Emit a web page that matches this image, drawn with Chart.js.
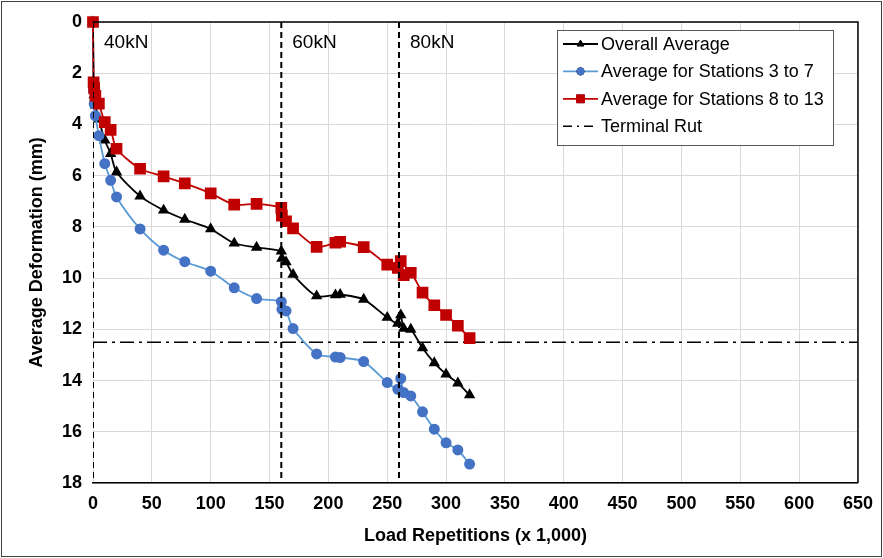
<!DOCTYPE html>
<html>
<head>
<meta charset="utf-8">
<script src="https://cdn.jsdelivr.net/npm/chart.js@4.4.0/dist/chart.umd.min.js"></script>
<style>
html,body{margin:0;padding:0;background:#fff;}
canvas{display:block;}
</style>
</head>
<body>
<canvas id="c" width="883" height="558"></canvas>
<script>
// ---- data ----
const loads = [0, 0.5, 1, 2, 5, 10, 15, 20, 40, 60, 78, 100, 120, 139, 160, 160.5, 164, 170, 190, 206, 210, 230, 250, 259, 261.5, 264, 270, 280, 290, 300, 310, 320];
const overallAverage = [0, 2.5, 2.85, 3.25, 3.8, 4.62, 5.14, 5.86, 6.8, 7.35, 7.71, 8.08, 8.64, 8.8, 8.95, 9.23, 9.37, 9.86, 10.7, 10.66, 10.64, 10.83, 11.54, 11.77, 11.44, 11.97, 12.0, 12.73, 13.31, 13.75, 14.1, 14.56];
const stations3to7 = [0, 2.7, 3.2, 3.66, 4.44, 5.53, 6.18, 6.83, 8.08, 8.91, 9.36, 9.73, 10.38, 10.8, 10.92, 11.22, 11.28, 11.97, 12.96, 13.08, 13.1, 13.26, 14.08, 14.34, 13.92, 14.47, 14.6, 15.22, 15.9, 16.43, 16.71, 17.26];
const stations8to13 = [0, 2.36, 2.58, 2.88, 3.19, 3.91, 4.21, 4.95, 5.73, 6.03, 6.3, 6.69, 7.13, 7.1, 7.26, 7.56, 7.78, 8.06, 8.78, 8.62, 8.58, 8.79, 9.47, 9.6, 9.34, 9.88, 9.79, 10.57, 11.06, 11.44, 11.86, 12.34];
const loadChangeAt = [0, 160, 260];
const loadChangeLabels = ['40kN', '60kN', '80kN'];
const terminalRut = 12.5;
const seriesNames = ['Overall Average', 'Average for Stations 3 to 7', 'Average for Stations 8 to 13', 'Terminal Rut'];
const xMin = 0, xMax = 650, xStep = 50;
const yMin = 0, yMax = 18, yStep = 2;

const pts = (ys) => loads.map((x, i) => ({x: x, y: ys[i]}));

const datasets = [
  {label: seriesNames[2], data: pts(stations8to13), borderColor: '#C00000', backgroundColor: '#C00000',
   pointStyle: 'rect', pointRadius: 7, borderWidth: 1.8, tension: 0.25, order: 1, legendIdx: 2, clip: false},
  {label: seriesNames[1], data: pts(stations3to7), borderColor: '#5B9BD5', backgroundColor: '#4472C4',
   pointBorderColor: '#4472C4', pointStyle: 'circle', pointRadius: 4.6, borderWidth: 1.8, tension: 0.25, order: 2, legendIdx: 1, clip: false},
  {label: seriesNames[0], data: pts(overallAverage), borderColor: '#000000', backgroundColor: '#000000',
   pointStyle: 'triangle', pointRadius: 4.8, borderWidth: 1.8, tension: 0.25, order: 3, legendIdx: 0, clip: false},
  {label: seriesNames[3], data: [{x: xMin, y: terminalRut}, {x: xMax, y: terminalRut}], borderColor: '#000000',
   borderDash: [14, 5, 3, 5], borderWidth: 1.5, pointRadius: 0, order: 4, legendIdx: 3}
];
loadChangeAt.forEach((lx) => {
  datasets.push({label: '_lc' + lx, data: [{x: lx, y: yMin}, {x: lx, y: yMax}], borderColor: '#000000',
    borderDash: [6, 4], borderWidth: 2, pointRadius: 0, order: 0});
});

const FONT = "'Liberation Sans', Arial, sans-serif";

const decor = {
  id: 'decor',
  beforeDraw(chart) {
    const ctx = chart.ctx;
    ctx.save();
    ctx.fillStyle = '#fff';
    ctx.fillRect(0, 0, chart.width, chart.height);
    ctx.strokeStyle = '#404040';
    ctx.lineWidth = 1;
    ctx.strokeRect(1.5, 1.5, chart.width - 3, chart.height - 3);
    ctx.restore();
  },
  afterDatasetsDraw(chart) {
    const ctx = chart.ctx, a = chart.chartArea;
    const xs = chart.scales.x, ys = chart.scales.y;
    ctx.save();
    // plot frame top/right
    ctx.strokeStyle = '#000';
    ctx.lineWidth = 1.5;
    ctx.beginPath();
    ctx.moveTo(a.left, a.top); ctx.lineTo(a.right, a.top); ctx.lineTo(a.right, a.bottom);
    ctx.stroke();
    // load labels
    ctx.fillStyle = '#000';
    ctx.font = '19px ' + FONT;
    ctx.textBaseline = 'middle';
    ctx.textAlign = 'left';
    loadChangeAt.forEach((lx, i) => {
      ctx.fillText(loadChangeLabels[i], xs.getPixelForValue(lx) + 11, ys.getPixelForValue(yMin) + 21);
    });
    // legend
    const bx = 557, by = 30, bw = 276, bh = 115;
    ctx.fillStyle = '#fff';
    ctx.fillRect(bx, by, bw, bh);
    ctx.strokeStyle = '#595959';
    ctx.lineWidth = 1;
    ctx.strokeRect(bx + 0.5, by + 0.5, bw, bh);
    const rows = chart.data.datasets.filter(d => d.legendIdx !== undefined).sort((p, q) => p.legendIdx - q.legendIdx);
    ctx.font = '18px ' + FONT;
    rows.forEach((d, i) => {
      const cy = 44 + i * 27.4;
      ctx.save();
      ctx.strokeStyle = d.borderColor;
      ctx.lineWidth = d.legendIdx === 3 ? 1.5 : 1.8;
      ctx.setLineDash(d.legendIdx === 3 ? [9, 5, 2, 5] : []);
      ctx.beginPath(); ctx.moveTo(563, cy); ctx.lineTo(598, cy); ctx.stroke();
      ctx.restore();
      if (d.pointRadius > 0) {
        Chart.helpers.drawPoint(ctx, {pointStyle: d.pointStyle, radius: d.pointRadius * 0.8, rotation: 0, borderWidth: 1}, 580.5, cy);
        ctx.fillStyle = d.pointBorderColor || d.backgroundColor;
        ctx.strokeStyle = d.pointBorderColor || d.backgroundColor;
        ctx.fill(); ctx.stroke();
      }
      ctx.fillStyle = '#000';
      ctx.fillText(d.label, 601, cy + 1);
    });
    ctx.restore();
  }
};

new Chart(document.getElementById('c'), {
  type: 'scatter',
  data: {datasets: datasets},
  options: {
    responsive: false,
    devicePixelRatio: 1,
    animation: false,
    showLine: true,
    layout: {padding: {left: 8, top: 22, right: 24, bottom: 8}},
    plugins: {legend: {display: false}, tooltip: {enabled: false}},
    elements: {line: {fill: false}},
    scales: {
      x: {
        type: 'linear', min: xMin, max: xMax,
        ticks: {stepSize: xStep, color: '#000', padding: 10, font: {family: FONT, size: 18, weight: 'bold'}, maxRotation: 0},
        grid: {color: '#d9d9d9', lineWidth: 1, drawTicks: false},
        border: {display: true, color: '#000', width: 1.5},
        title: {display: true, text: 'Load Repetitions (x 1,000)', color: '#000', padding: {top: 0, bottom: 3}, font: {family: FONT, size: 18, weight: 'bold'}},
        afterFit: (s) => { s.height = 558 - 8 - 483; }
      },
      y: {
        type: 'linear', min: yMin, max: yMax, reverse: true,
        ticks: {stepSize: yStep, color: '#000', padding: 11, font: {family: FONT, size: 18, weight: 'bold'}},
        grid: {color: '#d9d9d9', lineWidth: 1, drawTicks: false},
        border: {display: false},
        title: {display: true, text: 'Average Deformation (mm)', color: '#000', padding: {top: 18, bottom: 0}, font: {family: FONT, size: 18, weight: 'bold'}},
        afterFit: (s) => { s.width = 93 - 8; }
      }
    }
  },
  plugins: [decor]
});
</script>
</body>
</html>
